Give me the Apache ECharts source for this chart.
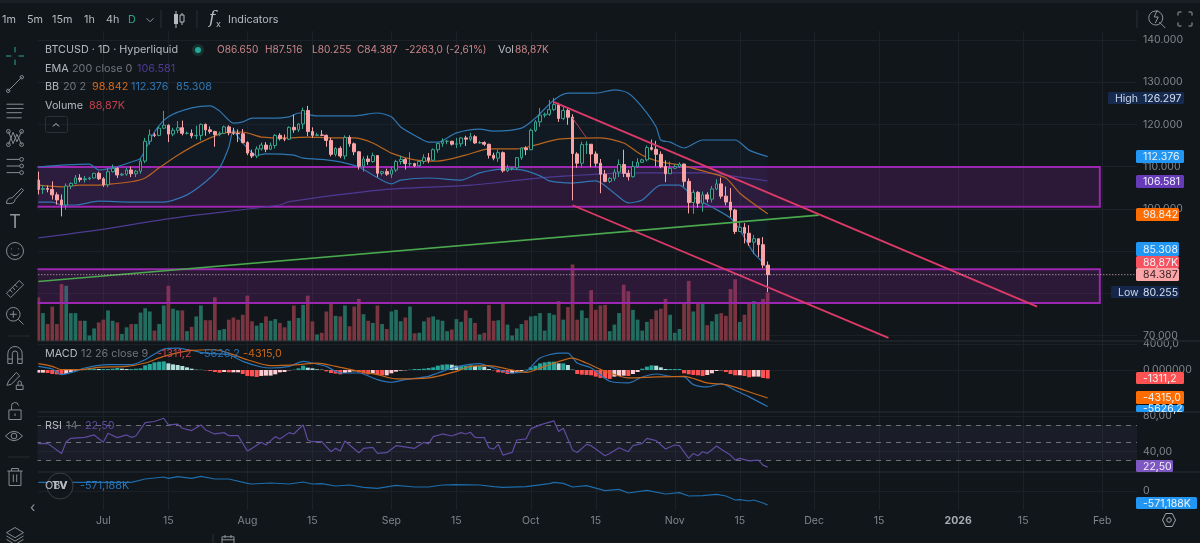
<!DOCTYPE html>
<html><head><meta charset="utf-8">
<style>html,body{margin:0;padding:0;background:#11161a;overflow:hidden}#c{width:1200px;height:543px}</style>
<script src="https://cdn.jsdelivr.net/npm/echarts@6/dist/echarts.min.js"></script>
</head><body><div id="c"></div>
<script>
// open, close, low, high per day from 2025-06-17
const candles=[[106.8,104.6,103.4,108.8],[104.6,104.8,103.5,105.6],[104.8,104.6,103.9,105.5],[104.6,103.3,102.2,106.5],[103.3,102.1,101,103.9],[102.1,100.9,98.2,103.4],[100.9,105.4,99.8,106],[105.4,106,104.7,106.3],[106,107.3,105.8,108],[107.3,106.9,106.3,108.2],[106.9,107.1,106.2,107.8],[107.1,107.3,106.8,107.6],[107.3,108.4,107.2,108.5],[108.4,107.1,106.8,108.8],
[107.1,105.7,105.2,107.5],[105.7,108.8,105.1,109.7],[108.8,109.6,108.6,110.5],[109.6,108,107.3,109.8],[108,108.2,107.8,108.5],[108.2,109.2,107.8,109.7],[109.2,108.3,107.5,110],[108.3,108.9,107.5,109.2],[108.9,111.3,108.3,111.9],[111.3,116,110.8,116.8],[116,117.5,115.2,118.8],[117.5,117.4,117,118],[117.4,119.1,117.2,119.5],[119.1,119.8,118.9,123.2],[119.8,117.7,115.8,120],[117.7,118.6,117.2,119.2],[118.6,119.2,117.9,120.8],[119.2,117.9,117.4,120.9],[117.9,117.9,117.6,118.3],[117.9,117.3,116.7,118.8],[117.3,117.4,116.5,119.7],[117.4,120,116.2,120.2],[120,118.7,117.3,120.2],[118.7,118.3,117.8,119.5],[118.3,117.6,114.7,118.5],[117.6,117.9,117.2,118.3],[117.9,119.4,117.8,119.7],[119.4,118,117.4,119.8],[118,117.9,117.5,119.2],[117.9,117.8,115.8,118.8],[117.8,115.7,115.5,118.9],
[115.7,113.2,112.7,116],[113.2,112.5,112,114],[112.5,114.2,112,114.8],[114.2,115.1,113.8,115.7],[115.1,114.1,113.4,115.8],[114.1,115,114.2,115.7],[115,117.4,114.3,117.7],[117.4,116.6,116.2,117.9],[116.6,116.5,116,117.6],[116.5,119.3,116.3,119.5],[119.3,118.7,118,122.3],[118.7,120.1,118.2,120.3],[120.1,123.3,118.9,124],[123.3,118.3,117.2,124.4],[118.3,117.4,116.8,119.3],[117.4,117.5,117.2,118],[117.5,117.4,117.2,118.6],[117.4,116.2,114.7,117.6],[116.2,112.9,112.4,116.8],[112.9,114.3,112.4,114.6],[114.3,112.5,112,114.8],[112.5,116.9,111.7,117.4],[116.9,115.4,114.7,117.4],[115.4,113.5,112.7,115.7],[113.5,110.1,109.3,113.7],[110.1,111.8,108.8,112.4],[111.8,111.2,110.4,112.6],[111.2,112.6,110.9,113.3],[112.6,108.4,107.5,112.7],[108.4,108.8,107.9,108.9],[108.8,108.2,107.8,109.5],
[108.2,109.2,107.3,109.9],[109.2,111.2,108.7,111.6],[111.2,111.7,110.5,112.6],[111.7,110.7,109.3,112],[110.7,110.7,110,113.4],[110.7,110.2,109.9,110.9],[110.2,111.2,110,111.4],[111.2,112.1,110.6,112.9],[112.1,111.5,110.8,113.2],[111.5,114,111.4,114.3],[114,115.5,113.3,115.6],[115.5,116,114.7,116.7],[116,116,115.3,116.3],[116,115.3,115,116.1],[115.3,115.4,114.4,116.8],[115.4,116.8,114.7,117],[116.8,116.5,114.9,117.3],[116.5,117.1,116,118],[117.1,115.6,115.4,117.5],[115.6,115.7,115.4,116.1],[115.7,115.3,114.9,116],[115.3,112.7,111.9,115.4],[112.7,112,111.5,113.3],[112,113.3,111.1,114],[113.3,109,108.6,113.6],[109,109.6,108.7,110.4],[109.6,109.7,109.1,109.8],[109.7,112.1,109.3,112.3],[112.1,114.4,111.6,114.5],[114.4,114,112.7,114.8],
[114,118.6,113.9,119],[118.6,120.6,118.2,121],[120.6,122.2,119.4,123.9],[122.2,122.4,121.6,122.8],[122.4,123.5,122,125.8],[123.5,124.7,123.2,126.297],[124.7,121.4,120.6,125.1],[121.4,123.3,121,124.2],[123.3,121.7,119.9,123.8],[121.7,113.1,102,122.4],[113,110.8,109.7,113.4],[110.8,115.2,109.8,115.9],[115.2,115.3,113,116],[115.3,113,109.9,113.6],[113,110.8,110,113.6],[110.8,108.2,103.7,111.8],[108.2,106.5,106.3,109.2],[106.5,107.2,106.1,107.5],[107.2,108.7,106.6,109.4],[108.7,110.5,107.5,111.7],[110.5,108.4,107.5,114],[108.4,107.6,106.7,109.2],[107.6,110,107.4,111.3],[110,111,109.7,112],[111,111.6,110.9,111.9],[111.6,114.5,111.2,115],[114.5,114.1,113.8,116.4],[114.1,112.9,110.1,116.1],[112.9,110,109.6,113.6],[110,108.3,106.3,111.5],[108.3,109.6,108.3,111.2],
[109.6,110,109.4,110.5],[110,110.6,109.7,111],[110.6,106.5,105.3,110.7],[106.5,101.5,98.9,107.2],[101.5,103.9,98.8,104.5],[103.9,101.3,100.3,104.2],[101.3,103.3,99.3,104.1],[103.3,102.3,101.5,103.9],[102.3,104.7,101.5,105.4],[104.7,105.9,104.4,107],[105.9,103,102.4,107.4],[103,101.6,100.8,105.3],[101.6,99.7,98,104.9],[99.7,94.6,94,100],[94.6,95.6,94.6,97],[95.6,94.2,91.8,96.6],[94.2,92.1,91.2,96.1],[92.1,92.9,89.3,93.8],[92.9,91.5,88.6,92.9],[91.5,86.65,85.9,93.3],[86.65,84.387,80.255,87.516]];
// volume in K per day
const volumes=[80,51,31,63,31,104,101,51,51,37,37,10,23,34,39,56,37,34,13,25,31,31,52,60,54,19,31,65,101,59,56,56,18,26,45,65,38,38,80,20,22,39,43,39,48,83,36,28,33,45,37,40,33,25,37,65,42,66,83,36,12,15,54,69,46,45,65,27,63,77,49,37,33,65,31,22,54,57,36,43,63,14,15,36,43,45,39,37,18,21,40,35,56,42,33,12,15,66,37,38,68,30,10,23,31,38,45,46,51,19,51,48,73,39,62,140,39,56,42,93,57,65,66,18,30,51,103,91,57,39,19,35,40,56,59,77,48,15,22,71,110,54,68,68,29,36,49,51,46,95,113,35,48,69,73,69,77,88.87];
// MACD histogram per day
const macdHist=[-408,-408,-459,-612,-663,-765,-612,-357,-102,102,153,153,204,153,153,153,204,306,204,153,153,204,255,714,918,1173,1275,1326,1020,867,765,612,408,204,51,51,-51,-153,-306,-408,-306,-357,-357,-357,-612,-918,-969,-1071,-918,-867,-867,-663,-357,-306,-51,51,255,663,357,255,102,51,-204,-459,-561,-663,-459,-357,-204,-357,-561,-663,-561,-765,-816,-816,-510,-255,-102,-51,51,153,153,204,306,408,663,816,867,816,663,663,663,714,612,612,510,153,-51,-357,-408,-612,-510,-357,-153,51,408,663,1020,1173,1275,1275,1020,1020,765,51,-612,-714,-765,-816,-1020,-1224,-1275,-1377,-1020,-918,-867,-918,-612,-306,204,510,714,663,408,153,153,153,153,-510,-663,-765,-816,-918,-765,-510,-153,-51,-306,-612,-816,-816,-918,-1122,-1020,-1020,-1224,-1311.2];
// [day index, value]
const emaValues=[[0,93.1],[13,95],[29,97.8],[52,100.9],[54,101.7],[74,104.5],[93,105.6],[110,107.5],[130,108.5],[143,108.5],[151,107.5],[157,106.581]];
const bbUpper=[[0,109.9],[6,110.4],[11,110.6],[13,109.2],[16,109.7],[20,111.1],[22,112],[25,118.2],[28,121.8],[33,123.9],[37,124.4],[39,123.2],[42,120.3],[44,120.6],[46,121.5],[50,121.5],[54,121.8],[56,122.7],[60,122],[68,122],[73,122.7],[76,121.8],[78,119.4],[82,116.8],[84,115.8],[86,115.8],[90,118],[95,118.9],[98,118.4],[104,119.1],[107,121.5],[111,125.8],[114,127.4],[120,127.4],[124,128.2],[127,127.4],[130,124.1],[133,119.4],[134,116.3],[136,115.8],[139,114.4],[143,116.3],[150,116.3],[153,113.9],[157,112.376]];
const bbMiddle=[[0,105.6],[5,105.2],[9,105.6],[13,105.6],[16,105.9],[20,106.4],[23,107.3],[26,109.7],[30,112.7],[35,115.8],[40,118],[44,118.2],[48,117],[54,116.8],[58,117],[63,116.8],[68,116.8],[72,115.6],[76,113.2],[81,111.6],[86,111.3],[92,112.7],[97,114.2],[103,114.2],[107,115.1],[112,116.5],[121,116.8],[126,115.6],[130,112.7],[134,111.1],[138,110.4],[144,108.7],[148,107.3],[151,103.7],[157,98.842]];
const bbLower=[[0,101.6],[3,101.6],[5,100.9],[8,100.9],[13,101.8],[20,101.6],[27,101.6],[32,103.3],[36,106.4],[39,109.7],[41,114.6],[42,118.7],[43,117],[47,112.7],[49,113],[55,112.7],[57,112],[62,111.6],[65,111.1],[69,109.9],[72,108],[76,105.9],[78,106.8],[84,107.3],[91,106.8],[95,108.5],[100,109.4],[104,109.2],[108,107.8],[110,106.6],[115,106.1],[120,106.6],[124,103.7],[127,101.4],[130,102.1],[134,105.6],[138,105.6],[141,102.8],[145,100.4],[149,97.8],[151,95],[154,89.5],[156,87.2],[157,85.308]];
const macdLine=[[0,561],[3,153],[5,-714],[8,-204],[10,306],[15,816],[20,816],[23,1581],[27,3213],[30,3366],[33,3009],[36,2601],[41,2346],[44,1326],[48,459],[50,306],[54,561],[57,1326],[59,1071],[62,561],[65,-459],[69,-459],[73,-1479],[76,-1887],[79,-1479],[84,-969],[86,-459],[90,459],[95,969],[97,561],[102,-459],[105,-204],[108,1836],[112,2601],[114,2601],[116,1071],[119,306],[123,-1734],[127,-1989],[130,-1071],[133,-612],[136,-969],[139,-1071],[141,-2244],[144,-2601],[147,-2091],[150,-3111],[153,-4131],[157,-5626.2]];
const macdSignal=[[0,969],[3,561],[5,51],[9,51],[13,408],[19,561],[23,1071],[27,2091],[33,3009],[38,3111],[41,2601],[45,1581],[50,663],[56,816],[60,1071],[64,561],[69,-204],[73,-714],[77,-1377],[84,-1224],[90,-204],[93,561],[97,663],[101,153],[105,-357],[109,561],[115,1836],[118,1071],[122,-204],[127,-1224],[133,-1071],[139,-969],[144,-1989],[148,-2244],[152,-3111],[157,-4315]];
const rsiValues=[[0,48.9],[2,49.2],[5,37.9],[6,51.1],[7,54.9],[10,56],[12,58.7],[14,50.4],[15,60.6],[17,55.7],[19,58.7],[20,56],[21,57.5],[23,72.6],[25,73.8],[27,77.5],[28,70],[30,70.8],[31,66.2],[33,63.6],[35,70],[36,64.3],[38,59.8],[40,61.3],[41,57.9],[43,57.9],[45,40.6],[46,43.6],[48,50.4],[49,47.4],[51,56.8],[52,54.2],[54,61.3],[55,59.8],[57,70],[58,53],[59,51.1],[61,51.1],[63,39.8],[64,43.6],[65,40.6],[66,51.9],[67,47.4],[69,38.7],[70,43.6],[72,44.7],[73,37.9],[75,38.7],[77,46.6],[81,43.6],[83,50.4],[84,48.5],[85,56.8],[87,59.8],[89,57.5],[91,61.3],[92,59.8],[93,61.7],[94,56],[96,55.7],[97,44.3],[98,42.8],[99,48.1],[100,36],[102,39],[103,53],[105,54.2],[106,65.5],[108,70],[111,74.5],[112,62.5],[113,66.2],[115,41.7],[116,39],[118,48.1],[119,46.6],[122,35.3],[123,37.9],[125,44.3],[127,39.8],[128,46.6],[130,49.2],[131,54.9],[133,52.3],[135,42.8],[137,47.4],[138,46.6],[140,32.3],[141,37.9],[142,35.3],[143,39.8],[144,37.9],[146,46.2],[147,42.5],[149,36],[150,30.4],[151,32.3],[153,29.6],[155,30.4],[156,24.7],[157,22.5]];
const obvValues=[[0,354],[20,354],[23,490],[27,571],[28,517],[30,585],[33,517],[35,598],[38,490],[41,490],[45,313],[46,286],[50,326],[54,286],[57,367],[59,286],[61,299],[64,204],[67,245],[70,150],[73,109],[77,231],[81,163],[84,163],[87,245],[90,258],[95,245],[98,177],[100,150],[105,177],[110,299],[111,354],[113,313],[115,163],[118,218],[122,14],[125,68],[127,-82],[131,27],[135,-122],[138,-68],[140,-204],[143,-190],[146,-136],[148,-204],[150,-367],[151,-354],[153,-408],[154,-367],[156,-490],[157,-571.188]];
// drawings: [start day, end day, top price, bottom price]
const zones=[[0,228,109.9,100.5],[0,228,85.7,77.7]];
const greenTrend=[[0,82.77],[168,98.5]];
const redUpper=[[111,125.26],[215,76.8]];
const redLower=[[115,100.83],[183,69.4]];
const redThin=[[115,121.5],[118,116.8]];
const lastPrice=[[0,84.387],[236,84.387]];
const priceTicks=[70,80,90,100,110,120,130,140];
const macdTicks=[0,4000];
const rsiTicks=[40,80];
const obvTicks=[0];
const timeLabels={'2025-07-01':'Jul','2025-07-15':'15','2025-08-01':'Aug','2025-08-15':'15','2025-09-01':'Sep','2025-09-15':'15','2025-10-01':'Oct','2025-10-15':'15','2025-11-01':'Nov','2025-11-15':'15','2025-12-01':'Dec','2025-12-15':'15','2026-01-01':'2026','2026-01-15':'15','2026-02-01':'Feb'};
const categories=[];
{const mlen=[[2025,6,30],[2025,7,31],[2025,8,31],[2025,9,30],[2025,10,31],[2025,11,30],[2025,12,31],[2026,1,31],[2026,2,28]];
 let first=17;
 for(const [y,m,n] of mlen){for(let d=first;d<=n;d++){if(categories.length<237)categories.push(y+'-'+String(m).padStart(2,'0')+'-'+String(d).padStart(2,'0'));}first=1;}}

const BG='#11161a',FONT='Inter, "Noto Sans", sans-serif',GRID='#1b2126',SEP='#282e35',AX='#80858c',AXF=10.5;
const isTick=(i)=>!!timeLabels[categories[i]];
const chart=echarts.init(document.getElementById('c'),null,{renderer:'canvas',width:1200,height:543});
const grids=[{top:31,height:310},{top:341,height:71},{top:412,height:60},{top:472,height:38}].map(g=>({left:36,width:1101,...g,containLabel:false}));
const xAxes=grids.map((g,k)=>({type:'category',gridIndex:k,data:categories,boundaryGap:true,
  axisLine:{show:false},axisTick:{show:false},
  axisLabel:k===3?{show:true,color:AX,fontFamily:FONT,fontSize:AXF,margin:5,interval:(i)=>isTick(i),
    formatter:(v)=>{const t=timeLabels[v];return t==='2026'?'{b|2026}':t;},rich:{b:{fontWeight:'bold',color:'#a9adb4',fontFamily:FONT,fontSize:AXF}}}:{show:false},
  splitLine:{show:true,interval:(i)=>isTick(i),alignWithLabel:true,lineStyle:{color:GRID,width:1}}}));
const yLab=(fmt)=>({show:true,color:AX,fontFamily:FONT,fontSize:AXF,margin:6,formatter:fmt,hideOverlap:false,showMinLabel:true,showMaxLabel:true});
const yAxes=[
 {type:'value',gridIndex:0,position:'right',min:68.67,max:142.13,scale:true,axisLine:{show:false},axisTick:{show:false,customValues:priceTicks},axisLabel:{...yLab(v=>v.toFixed(3)),customValues:priceTicks},splitLine:{show:true,lineStyle:{color:GRID}}},
 {type:'value',gridIndex:0,position:'left',min:0,max:567,show:false,splitLine:{show:false}},
 {type:'value',gridIndex:1,position:'right',min:-6460,max:4460,axisLine:{show:false},axisTick:{show:false,customValues:macdTicks},axisLabel:{...yLab(v=>v===0?'0,000000':'4000,0'),customValues:macdTicks},splitLine:{show:true,lineStyle:{color:GRID}}},
 {type:'value',gridIndex:2,position:'right',min:17,max:84.5,axisLine:{show:false},axisTick:{show:false,customValues:rsiTicks},axisLabel:{...yLab(v=>v+',00'),customValues:rsiTicks},splitLine:{show:true,lineStyle:{color:GRID}}},
 {type:'value',gridIndex:3,position:'right',min:-775,max:775,axisLine:{show:false},axisTick:{show:false,customValues:obvTicks},axisLabel:{...yLab(v=>'0'),customValues:obvTicks},splitLine:{show:true,lineStyle:{color:GRID}}}
];
const ln=(name,data,color,width,xi,yi,z,extra,smooth)=>({name,type:'line',data,xAxisIndex:xi,yAxisIndex:yi,showSymbol:false,symbol:'none',z:z||5,silent:true,smooth:smooth||false,lineStyle:{color,width:width,...(extra||{})}});
// UI text and tags
const T=(x,y,text,fill,o)=>({type:'text',z:60,x,y,style:{text,fill,font:(o&&o.font)||('10.8px '+FONT),textVerticalAlign:'middle',textAlign:(o&&o.align)||'left'}});
const L='#b6b9bf',G='#70757c';
const badge=(x1,x2,y1,y2,text,bg,fg)=>[{type:'rect',z:60,shape:{x:x1,y:y1,width:x2-x1,height:y2-y1,r:1.5},style:{fill:bg}},T(x1+7,(y1+y2)/2+0.5,text,fg||'#eef2f7',{font:AXF+'px '+FONT})];
const icon=(cx,cy,d,color,s)=>({d,color:color||'#878c93',cx,cy,s:s||8.5});
const vline=(x,y1,y2)=>({type:'line',z:60,shape:{x1:x,y1,x2:x,y2},style:{stroke:SEP,lineWidth:1}});
const hline=(x1,x2,y,c)=>({type:'line',z:60,shape:{x1,y1:y,x2,y2:y},style:{stroke:c||SEP,lineWidth:1}});
const PNK='#c9868a',OF={font:'10.1px '+FONT};
const icons=[
 icon(150,20,'M0 0L5 5L10 0','#8f949b',3.5),
 icon(1157,19,'M8 2A7 7 0 1 0 9 16A7 7 0 0 0 8 2M12 13L18 19M10 1L7 8L11 8L8 14','#8f949b',9),
 icon(1185,19,'M0 5L0 1Q0 0 1 0L5 0M15 0L19 0Q20 0 20 1L20 5M20 15L20 19Q20 20 19 20L15 20M5 20L1 20Q0 20 0 19L0 15','#a0a4aa',7),
 icon(56,125,'M0 5L5 0L10 5','#c8ccd0',3),
 icon(1169,520,'M5 0L15 0L20 10L15 20L5 20L0 10ZM13.500 10A3.500 3.500 0 1 0 6.500 10A3.500 3.500 0 1 0 13.500 10','#a0a4aa',6.5),
 icon(15,56,'M10 0L10 6M10 14L10 20M0 10L6 10M14 10L20 10','#2fa38f',9),
 icon(15,84,'M2 18L18 2M0 18A2 2 0 1 0 4 18A2 2 0 1 0 0 18M16 2A2 2 0 1 0 20 2A2 2 0 1 0 16 2'),
 icon(15,111,'M0 2L20 2M0 7L20 7M0 12L18 12M0 18L18 18'),
 icon(15,138,'M3 3L8 16L12 6L17 17M3 17L8 4L12 14L17 3M1 3A2 2 0 1 0 5 3A2 2 0 1 0 1 3M15 3A2 2 0 1 0 19 3A2 2 0 1 0 15 3M1 17A2 2 0 1 0 5 17A2 2 0 1 0 1 17M15 17A2 2 0 1 0 19 17A2 2 0 1 0 15 17'),
 icon(15,166,'M0 3L14 3M0 10L14 10M0 17L14 17M14 3A2 2 0 1 0 18 3A2 2 0 1 0 14 3M14 10A2 2 0 1 0 18 10A2 2 0 1 0 14 10M14 17A2 2 0 1 0 18 17A2 2 0 1 0 14 17'),
 icon(15,196,'M2 18Q2 12 8 12L18 2L20 4L11 14Q11 19 2 18'),
 icon(15,251,'M20 10A10 10 0 1 0 0 10A10 10 0 1 0 20 10M6 7L6 8M14 7L14 8M5 13Q10 18 15 13'),
 icon(15,289,'M0 15L15 0L20 5L5 20ZM4 11L7 14M7 8L10 11M10 5L13 8'),
 icon(15,316,'M0 8A8 8 0 1 0 16 8A8 8 0 1 0 0 8M8 4L8 12M4 8L12 8M14 14L20 20'),
 icon(15,355,'M1 20L1 9A8 8 0 0 1 17 9L17 20L12 20L12 9A3 3 0 0 0 6 9L6 20ZM1 15L6 15M12 15L17 15'),
 icon(15,381,'M1 17L3 12L12 2L16 6L6 16ZM12 17L20 17L20 22L12 22ZM14 17L14 14A2 2 0 0 1 18 14L18 17'),
 icon(15,411,'M3 9L17 9L17 20L3 20ZM6 9L6 5A4 4 0 0 1 14 4M10 13L10 16'),
 icon(14,436,'M0 8Q9 -2 18 8Q9 18 0 8M6 8A3 3 0 1 0 12 8A3 3 0 1 0 6 8'),
 icon(15,477,'M1 3L19 3M6 3L6 0L14 0L14 3M3 3L3 20L17 20L17 3M8 7L8 16M12 7L12 16'),
 icon(15,536,'M10 0L20 6L10 12L0 6ZM0 10L10 16L20 10M0 14L10 20L20 14'),
 icon(228,541,'M0 3L20 3L20 20L0 20ZM5 0L5 5M15 0L15 5M0 8L20 8','#8f949b',6)
];
const series=[
 {name:'Volume',type:'bar',data:volumes,xAxisIndex:0,yAxisIndex:1,barWidth:3.7,z:1,silent:true,
  itemStyle:{color:(p)=>candles[p.dataIndex][1]>=candles[p.dataIndex][0]?'#226d60':'#7b3540'}},
 {name:'BB fill',type:'custom',xAxisIndex:0,yAxisIndex:0,data:[[0,100]],z:1,silent:true,clip:true,
  renderItem:(params,api)=>{const pts=bbUpper.map(p=>api.coord(p)).concat(bbLower.slice().reverse().map(p=>api.coord(p)));
    return {type:'polygon',shape:{points:pts},style:{fill:'rgba(33,150,243,0.035)'}};}},
 {name:'Zones',type:'custom',xAxisIndex:0,yAxisIndex:0,data:zones,encode:{x:[0,1],y:[2,3]},z:2,silent:true,clip:true,
  renderItem:(params,api)=>{const half=api.size([1,0])[0]/2;const a=api.coord([api.value(0),api.value(2)]),b=api.coord([api.value(1),api.value(3)]);
    return {type:'rect',shape:{x:a[0]-half,y:a[1],width:b[0]-a[0]+2*half,height:b[1]-a[1]},style:{fill:'rgba(156,39,176,0.2)',stroke:'#9c27b0',lineWidth:2}};}},
 ln('EMA',emaValues,'#4d3a92',1.2,0,0,3,null,0.3),
 ln('BB upper',bbUpper,'#2f76b2',1.2,0,0,3,null,0.25),
 ln('BB lower',bbLower,'#2f76b2',1.2,0,0,3,null,0.25),
 ln('BB basis',bbMiddle,'#b8641f',1.2,0,0,3,null,0.25),
 {name:'BTCUSD',type:'candlestick',data:candles,xAxisIndex:0,yAxisIndex:0,barWidth:3.2,z:4,silent:true,
  itemStyle:{color:'#12181c',color0:'#f9a3a6',borderColor:'#38a38f',borderColor0:'#f9a3a6',borderWidth:1}},
 ln('Green trend',greenTrend,'#4aa84e',1.6,0,0,5),
 ln('Upper channel',redUpper,'#dc3a68',1.8,0,0,5),
 ln('Lower channel',redLower,'#dc3a68',1.8,0,0,5),
 ln('Thin',redThin,'#a8405a',1,0,0,5),
 ln('Last price',lastPrice,'#d9b7bc',1,0,0,5,{type:[1,2]}),
 {name:'Hist',type:'bar',data:macdHist,xAxisIndex:1,yAxisIndex:2,barWidth:4,z:2,silent:true,
  itemStyle:{color:(p)=>{const v=macdHist[p.dataIndex],q=p.dataIndex?macdHist[p.dataIndex-1]:v;return v>=0?(v>=q?'#26a69a':'#b2dfdb'):(v<q?'#ff5252':'#ffcdd2');}}},
 ln('MACD',macdLine,'#2a74b8',1.2,1,2,3,null,0.25),
 ln('Signal',macdSignal,'#c4661c',1.2,1,2,3,null,0.25),
 Object.assign(ln('RSI',rsiValues,'#5f4b9f',1.2,2,3,5),{
   markArea:{silent:true,itemStyle:{color:'rgba(126,87,194,0.09)'},data:[[{yAxis:70},{yAxis:30}]]},
   markLine:{silent:true,symbol:'none',label:{show:false},lineStyle:{color:'#6d7178',type:[5,5],width:1},data:[{yAxis:70},{yAxis:50},{yAxis:30}]}}),
 ln('OBV',obvValues,'#1e6cab',1.2,3,4,5),
 {name:'Icons',type:'custom',coordinateSystem:'none',data:[[0]],z:70,silent:true,clip:false,
  renderItem:()=>({type:'group',children:icons.map(i=>({type:'path',shape:{pathData:i.d,layout:'center',x:i.cx-i.s,y:i.cy-i.s,width:2*i.s,height:2*i.s},style:{fill:'none',stroke:i.color,lineWidth:1}}))})}
];
const graphics=[
 {type:'rect',z:50,shape:{x:0,y:0,width:37.5,height:543},style:{fill:BG}},
 {type:'rect',z:50,shape:{x:0,y:0,width:1200,height:3},style:{fill:'#191f24'}},
 {type:'rect',z:50,shape:{x:1138,y:510,width:62,height:33},style:{fill:BG}},
 hline(38,1200,341),hline(38,1200,412),hline(38,1200,472),
 T(2,20,'1m',L),T(27,20,'5m',L),T(52,20,'15m',L),T(84,20,'1h',L),T(106,20,'4h',L),T(128,20,'D','#2fa38f'),
 vline(161,10,28),
 {type:'line',z:60,shape:{x1:176,y1:11,x2:176,y2:28},style:{stroke:L,lineWidth:1}},
 {type:'rect',z:60,shape:{x:174,y:14,width:4,height:10},style:{fill:L}},
 {type:'line',z:60,shape:{x1:182,y1:13,x2:182,y2:25},style:{stroke:L,lineWidth:1}},
 {type:'rect',z:60,shape:{x:180,y:15,width:4,height:7},style:{fill:BG,stroke:L,lineWidth:1}},
 vline(197,10,28),
 T(209,19,'f',L,{font:'italic 17px "DejaVu Serif"'}),T(216,24,'x',L,{font:'9px '+FONT}),T(228,20,'Indicators',L),
 vline(1137,10,28),
 T(45,50,'BTCUSD · 1D · Hyperliquid',L),
 {type:'circle',z:60,shape:{cx:198,cy:50,r:6},style:{fill:'#16322f'}},{type:'circle',z:60,shape:{cx:198,cy:50,r:3},style:{fill:'#26a69a'}},
 T(217,50,'O86.650',PNK,OF),T(265,50,'H87.516',PNK,OF),T(312,50,'L80.255',PNK,OF),T(357,50,'C84.387',PNK,OF),T(405,50,'-2263,0 (-2,61%)',PNK,OF),T(498,50,'Vol',L),T(515,50,'88,87K',PNK,OF),
 T(45,69,'EMA',L),T(72,69,'200 close 0',G),T(137,69,'106.581','#4f3a96'),
 T(45,87,'BB',L),T(63,87,'20 2',G),T(92,87,'98.842','#d4691c'),T(131,87,'112.376','#2f76b2'),T(176,87,'85.308','#2f76b2'),
 T(45,106,'Volume',L),T(89,106,'88,87K','#c23f4e'),
 {type:'rect',z:60,shape:{x:45.5,y:116.5,width:22,height:16,r:2},style:{fill:'none',stroke:'#2a3036'}},
 T(45,354,'MACD',L),T(81,354,'12 26 close 9',G),T(157,354,'-1311,2','#c9434f'),T(199,354,'-5626,2','#2a74b8'),T(243,354,'-4315,0','#c4661c'),
 T(45,426,'RSI',L),T(66,426,'14',G),T(85,426,'22,50','#5f4b9f'),
 {type:'circle',z:59,shape:{cx:60,cy:486,r:13},style:{fill:BG,stroke:'#3a3f45',lineWidth:1}},
 T(45,486,'OBV',L),T(52,486,'TV',L,{font:'bold 10.8px '+FONT}),T(80,486,'-571,188K','#2a74b8'),
 ...badge(1108,1184,92,104,'High','#16294f','#c9d6ea'),T(1143,98.5,'126.297','#d6e0f0',{font:AXF+'px '+FONT}),
 ...badge(1136,1184,150,163,'112.376','#2196f3'),
 ...badge(1136,1184,175,188,'106.581','#673ab7'),
 ...badge(1136,1179,208,221,'98.842','#ff6d00'),
 ...badge(1136,1179,242,256,'85.308','#2196f3'),
 ...badge(1136,1179,256,268,'88,87K','#f7525f'),
 ...badge(1136,1179,268,281,'84.387','#fca5a8','#3a2326'),
 ...badge(1111,1179,286,298,'Low','#14264a','#c9d6ea'),T(1143,292.5,'80.255','#d6e0f0',{font:AXF+'px '+FONT}),
 ...badge(1136,1184,372,384,'-1311,2','#ff5252'),
 ...badge(1136,1184,391,404,'-4315,0','#ff6d00'),
 ...badge(1136,1184,405,412,'','#2196f3'),T(1143,409,'-5626,2','#eef2f7',{font:AXF+'px '+FONT}),
 ...badge(1136,1173,460,472,'22,50','#7e57c2'),
 ...badge(1136,1197,497,509,'-571,188K','#2196f3'),
 T(30,508,'‹','#8f949b',{font:'14px '+FONT}),
 T(15,223,'T','#8f949b',{font:'18px '+FONT,align:'center'}),
 hline(8,30,336,'#262b31'),hline(8,30,457,'#262b31'),
 vline(213,534,543)
];
chart.setOption({animation:false,backgroundColor:BG,grid:grids,xAxis:xAxes,yAxis:yAxes,series,graphic:{elements:graphics}});
</script></body></html>
